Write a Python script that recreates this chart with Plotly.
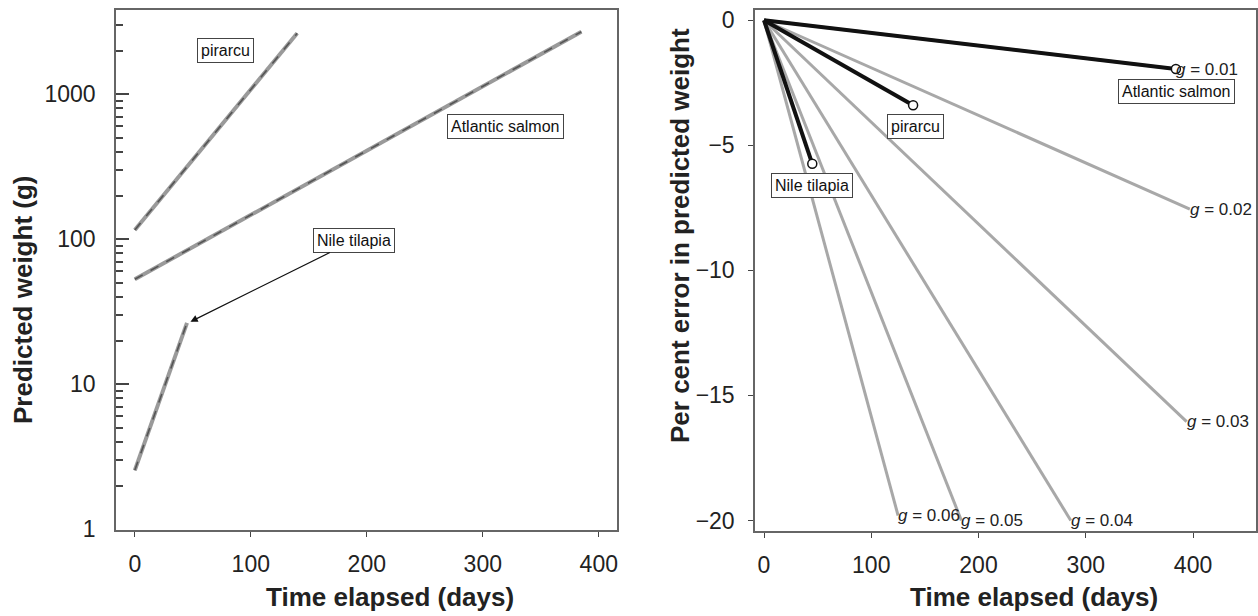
import numpy as np
import plotly.graph_objects as go

W, H = 1258, 616


def px(x):
    return x / W


def py(y):
    return 1 - y / H


# ---- Left panel data (predicted weight, log scale) ----
species = ["pirarcu", "Atlantic salmon", "Nile tilapia"]
t_start = [0, 0, 0]
t_end = [140, 385, 45]
w_start = [116, 53, 2.55]
w_end = [2630, 2700, 26.5]
lab_left_x = [78, 320, 189]
lab_left_y = [1990, 595, 98]
arrow_tip = (48, 27)

# ---- Right panel data (per cent error in predicted weight) ----
g_vals = [0.01, 0.02, 0.03, 0.04, 0.05, 0.06]
g_end_t = [384, 397, 394, 286, 184, 125]
g_end_err = [-1.95, -7.55, -16.05, -20.0, -20.0, -19.8]
sp_end_t = [139, 384, 45]
sp_end_err = [-3.40, -1.95, -5.74]
lab_right_x = [141, 385, 45]
lab_right_y = [-4.24, -2.84, -6.61]

x_ticks = [0, 100, 200, 300, 400]
w_ticks = [1, 10, 100, 1000]
err_ticks = [0, -5, -10, -15, -20]

FONT = "Liberation Sans, Arial, sans-serif"

fig = go.Figure()
for i, name in enumerate(species):
    fig.add_trace(go.Scatter(x=[t_start[i], t_end[i]], y=[w_start[i], w_end[i]],
                             mode="lines", line=dict(color="#9a9a9a", width=4),
                             xaxis="x", yaxis="y", showlegend=False, hoverinfo="skip"))
    fig.add_trace(go.Scatter(x=[t_start[i], t_end[i]], y=[w_start[i], w_end[i]],
                             mode="lines", line=dict(color="#555555", width=1.6, dash="dash"),
                             xaxis="x", yaxis="y", showlegend=False, hoverinfo="skip"))
for i, g in enumerate(g_vals):
    fig.add_trace(go.Scatter(x=[0, g_end_t[i]], y=[0, g_end_err[i]],
                             mode="lines", line=dict(color="#a8a8a8", width=3),
                             xaxis="x2", yaxis="y2", showlegend=False, hoverinfo="skip"))
for i, name in enumerate(species):
    fig.add_trace(go.Scatter(x=[0, sp_end_t[i]], y=[0, sp_end_err[i]],
                             mode="lines", line=dict(color="#111111", width=4),
                             xaxis="x2", yaxis="y2", showlegend=False, hoverinfo="skip"))
    fig.add_trace(go.Scatter(x=[sp_end_t[i]], y=[sp_end_err[i]], mode="markers",
                             marker=dict(symbol="circle", size=9, color="white",
                                         line=dict(color="#111111", width=1.5)),
                             xaxis="x2", yaxis="y2", showlegend=False, hoverinfo="skip"))

annotations = []
box = dict(bordercolor="#444444", borderwidth=1, bgcolor="white", borderpad=3,
           font=dict(family=FONT, size=16, color="#111"))
for i, name in enumerate(species):
    if name == "Nile tilapia":
        annotations.append(dict(xref="x", yref="y", x=arrow_tip[0], y=np.log10(arrow_tip[1]),
                                axref="x", ayref="y", ax=lab_left_x[i], ay=np.log10(lab_left_y[i]),
                                text=name, showarrow=True, arrowhead=2, arrowsize=1.2,
                                arrowwidth=1.2, arrowcolor="#111", **box))
    else:
        annotations.append(dict(xref="x", yref="y", x=lab_left_x[i], y=np.log10(lab_left_y[i]),
                                text=name, showarrow=False, **box))
    annotations.append(dict(xref="x2", yref="y2", x=lab_right_x[i], y=lab_right_y[i],
                            text=name, showarrow=False, **box))
for i, g in enumerate(g_vals):
    annotations.append(dict(xref="x2", yref="y2", x=g_end_t[i], y=g_end_err[i],
                            text=f"<i>g</i> = {g:.2f}", showarrow=False,
                            xanchor="left", yanchor="middle", xshift=-2,
                            font=dict(family=FONT, size=17, color="#222")))

title_font = dict(family=FONT, size=26, color="#222")
annotations += [
    dict(xref="paper", yref="paper", x=px(390), y=py(597), text="<b>Time elapsed (days)</b>",
         showarrow=False, font=title_font, xanchor="center", yanchor="middle"),
    dict(xref="paper", yref="paper", x=px(1034), y=py(597), text="<b>Time elapsed (days)</b>",
         showarrow=False, font=title_font, xanchor="center", yanchor="middle"),
    dict(xref="paper", yref="paper", x=px(23), y=py(300), text="<b>Predicted weight (g)</b>",
         showarrow=False, font=title_font, textangle=-90, xanchor="center", yanchor="middle"),
    dict(xref="paper", yref="paper", x=px(680), y=py(236),
         text="<b>Per cent error in predicted weight</b>",
         showarrow=False, font=title_font, textangle=-90, xanchor="center", yanchor="middle"),
]

minor_vals = [m * 10 ** d for d in range(0, 4) for m in range(2, 10)]
axcommon = dict(showgrid=False, zeroline=False, showline=True, linecolor="#666",
                linewidth=1.5, mirror=True, tickcolor="#444", automargin=False,
                ticklabeloverflow="allow",
                tickfont=dict(family=FONT, size=23, color="#222"))

fig.update_layout(
    width=W, height=H, margin=dict(l=0, r=0, t=0, b=0, pad=0, autoexpand=False),
    paper_bgcolor="white", plot_bgcolor="white",
    annotations=annotations,
    xaxis=dict(domain=[px(116), px(617)], range=[-16.2, 415.7], tickvals=x_ticks,
               ticks="outside", ticklen=5, ticklabelstandoff=8, anchor="y", **axcommon),
    yaxis=dict(domain=[py(530), py(10)], type="log", range=[-0.005, 3.581],
               tickvals=w_ticks, ticktext=[str(v) for v in w_ticks],
               ticks="inside", ticklen=13, tickwidth=1.5, ticklabelstandoff=14, anchor="x",
               minor=dict(tickmode="array", tickvals=minor_vals, ticks="inside",
                          ticklen=7, tickcolor="#444", showgrid=False),
               **axcommon),
    xaxis2=dict(domain=[px(755), px(1256)], range=[-8.4, 458.7], tickvals=x_ticks,
                ticks="outside", ticklen=5, ticklabelstandoff=8, anchor="y2", **axcommon),
    yaxis2=dict(domain=[py(531), py(10)], range=[-20.42, 0.41], tickvals=err_ticks,
                ticks="outside", ticklen=5, ticklabelstandoff=9, anchor="x2", **axcommon),
)

fig.write_html("out.html", config={"displayModeBar": False},
               post_script="document.body.style.margin='0px';"
                           "document.documentElement.style.overflow='hidden';")
